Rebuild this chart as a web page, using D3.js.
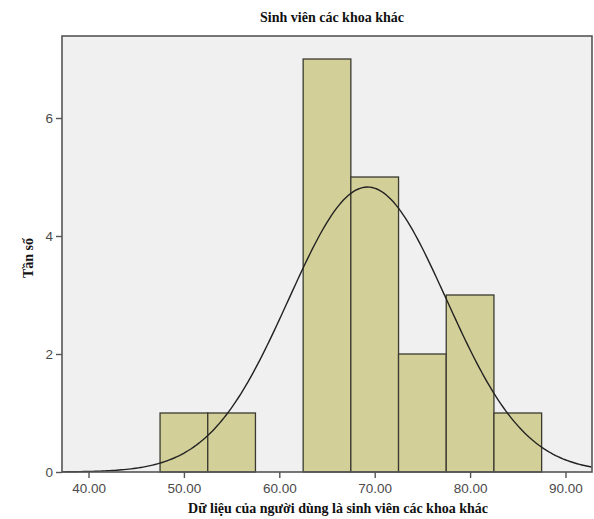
<!DOCTYPE html>
<html lang="vi">
<head>
<meta charset="UTF-8">
<title>Sinh viên các khoa khác</title>
<script src="https://d3js.org/d3.v7.min.js"></script>
<style>
  body { margin: 0; background: #fff; }
  .tick text { font-family: "Liberation Sans", Arial, sans-serif; font-size: 13.5px; fill: #4a4a4a; }
  .ttl { font-family: "Liberation Serif", "Times New Roman", serif; font-weight: bold; font-size: 14px; fill: #111; }
</style>
</head>
<body>
<svg width="594" height="519"></svg>
<script>
  // histogram bins (lower edge, upper edge, count)
  const binStart = [47.5, 52.5, 62.5, 67.5, 72.5, 77.5, 82.5]
  const binEnd   = [52.5, 57.5, 67.5, 72.5, 77.5, 82.5, 87.5]
  const counts   = [1, 1, 7, 5, 2, 3, 1]
  const xTicks = [40, 50, 60, 70, 80, 90]
  const yTicks = [0, 2, 4, 6]
  const mean = 69.25
  const sd = 8.26
  const N = 20
  const binWidth = 5

  const svg = d3.select("svg")
  const pLeft = 62, pRight = 592, pTop = 36, pBottom = 472

  const x = d3.scaleLinear().domain([37.22, 92.78]).range([pLeft, pRight])
  const y = d3.scaleLinear().domain([0, 7.39]).range([pBottom, pTop])

  svg.append("rect")
    .attr("x", pLeft).attr("y", pTop)
    .attr("width", pRight - pLeft).attr("height", pBottom - pTop)
    .attr("fill", "#f0f0f0")

  const bins = counts.map((c, i) => ({x0: binStart[i], x1: binEnd[i], n: c}))

  svg.selectAll(".bar").data(bins).enter().append("rect")
    .attr("class", "bar")
    .attr("x", d => x(d.x0))
    .attr("y", d => y(d.n))
    .attr("width", d => x(d.x1) - x(d.x0))
    .attr("height", d => y(0) - y(d.n))
    .attr("fill", "#d3cf98")
    .attr("stroke", "#3a3a30")
    .attr("stroke-width", 1.3)

  // normal curve over the plot range
  const pts = d3.range(37.22, 92.78 + 0.01, 0.25).map(v => [v,
    N * binWidth / (sd * Math.sqrt(2 * Math.PI)) * Math.exp(-0.5 * Math.pow((v - mean) / sd, 2))])

  svg.append("path")
    .datum(pts)
    .attr("fill", "none")
    .attr("stroke", "#222")
    .attr("stroke-width", 1.4)
    .attr("d", d3.line().x(d => x(d[0])).y(d => y(d[1])))

  // frame
  svg.append("rect")
    .attr("x", pLeft).attr("y", pTop)
    .attr("width", pRight - pLeft).attr("height", pBottom - pTop)
    .attr("fill", "none").attr("stroke", "#555").attr("stroke-width", 1.6)

  const xAxis = svg.append("g").attr("transform", `translate(0,${pBottom})`)
    .call(d3.axisBottom(x).tickValues(xTicks).tickFormat(d3.format(".2f")).tickSize(6).tickPadding(5))
  xAxis.select(".domain").remove()
  xAxis.selectAll("line").attr("stroke", "#555").attr("stroke-width", 1.4)

  const yAxis = svg.append("g").attr("transform", `translate(${pLeft},0)`)
    .call(d3.axisLeft(y).tickValues(yTicks).tickFormat(d3.format("d")).tickSize(6).tickPadding(3))
  yAxis.select(".domain").remove()
  yAxis.selectAll("line").attr("stroke", "#555").attr("stroke-width", 1.4)

  svg.append("text").attr("class", "ttl")
    .attr("x", 332).attr("y", 22).attr("text-anchor", "middle")
    .text("Sinh  viên các khoa khác")

  svg.append("text").attr("class", "ttl")
    .attr("x", 338).attr("y", 513).attr("text-anchor", "middle")
    .text("Dữ liệu của người dùng là sinh viên các khoa khác")

  svg.append("text").attr("class", "ttl")
    .attr("transform", "translate(33,258) rotate(-90)")
    .attr("text-anchor", "middle")
    .text("Tần số")
</script>
</body>
</html>
